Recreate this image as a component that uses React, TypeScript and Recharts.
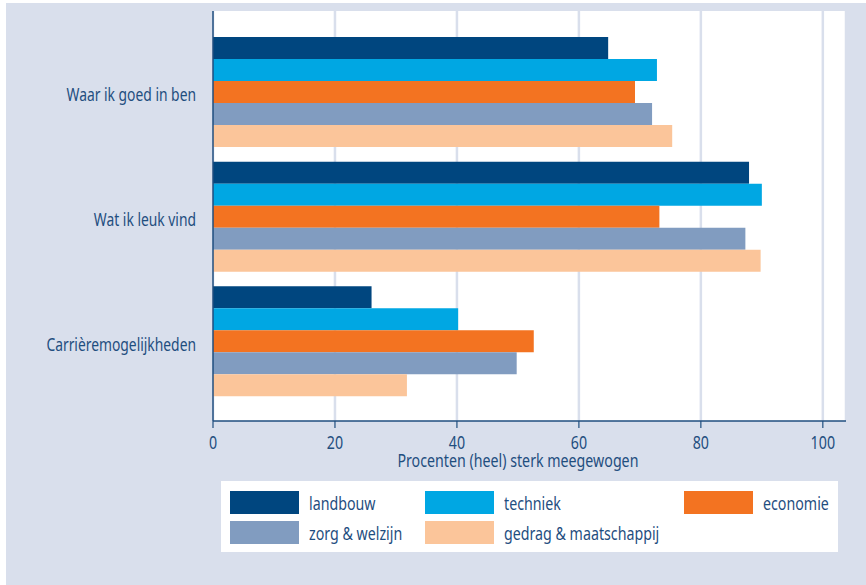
import { BarChart, Bar, XAxis, YAxis, CartesianGrid } from 'recharts';

const categories = ['Waar ik goed in ben', 'Wat ik leuk vind', 'Carrièremogelijkheden'];
const landbouw = [64.8, 87.9, 26.0];
const techniek = [72.8, 90.0, 40.2];
const economie = [69.2, 73.2, 52.6];
const zorgWelzijn = [72.0, 87.3, 49.8];
const gedragMaatschappij = [75.3, 89.8, 31.8];
const xTicks = [0, 20, 40, 60, 80, 100];

const series = [
  { key: 'landbouw', name: 'landbouw', values: landbouw, color: '#00467f' },
  { key: 'techniek', name: 'techniek', values: techniek, color: '#00a7e3' },
  { key: 'economie', name: 'economie', values: economie, color: '#f37321' },
  { key: 'zorg', name: 'zorg & welzijn', values: zorgWelzijn, color: '#819cc0' },
  { key: 'gedrag', name: 'gedrag & maatschappij', values: gedragMaatschappij, color: '#fbc59a' },
];

const data = categories.map((name, i) => {
  const row: Record<string, string | number> = { name };
  series.forEach((s) => {
    row[s.key] = s.values[i];
  });
  return row;
});

const TEXT = '#1f4e7f';
const BG = '#d9dfec';
const FONT = "'Noto Sans', sans-serif";
const FS = 18;
const SX = 0.79; // squeeze to mimic the condensed face of the original
const X_MAX = 103.8;

const CategoryTick = (props: any) => (
  <text
    transform={`translate(${props.x},${props.y}) scale(0.77,1)`}
    dy={9}
    textAnchor="end"
    fill={TEXT}
    fontSize={FS}
    fontFamily={FONT}
  >
    {props.payload.value}
  </text>
);

const NumberTick = (props: any) => (
  <text
    transform={`translate(${props.x},${props.y}) scale(${SX},1)`}
    dy={21.5}
    textAnchor="middle"
    fill={TEXT}
    fontSize={FS}
    fontFamily={FONT}
  >
    {props.payload.value}
  </text>
);

const AxisTitle = (props: any) => {
  const vb = props.viewBox;
  const cx = vb.x + (vb.width * 100) / X_MAX / 2;
  return (
    <text
      transform={`translate(${cx},${vb.y + 45.5}) scale(${SX},1)`}
      textAnchor="middle"
      fill={TEXT}
      fontSize={FS}
      fontFamily={FONT}
    >
      Procenten (heel) sterk meegewogen
    </text>
  );
};

const legendRows = [series.slice(0, 3), series.slice(3)];
const legendCols = [9, 204, 463];

export default function App() {
  return (
    <div style={{ position: 'absolute', left: 0, top: 0, width: 866, height: 585, background: '#fff' }}>
      <div style={{ position: 'absolute', left: 6, top: 3, width: 860, height: 582, background: BG, fontFamily: FONT }}>
        <BarChart
          width={860}
          height={470}
          data={data}
          layout="vertical"
          margin={{ top: 8, right: 20, bottom: 0, left: 0 }}
          barGap={0}
          barSize={22}
        >
          <CartesianGrid horizontal={false} stroke={BG} strokeWidth={2.5} fill="#ffffff" />
          <XAxis
            type="number"
            domain={[0, X_MAX]}
            ticks={xTicks}
            height={52}
            axisLine={{ stroke: TEXT, strokeWidth: 1.5 }}
            tickLine={{ stroke: TEXT, strokeWidth: 1.2 }}
            tickSize={7}
            tickMargin={0}
            tick={<NumberTick />}
            label={<AxisTitle />}
          />
          <YAxis
            type="category"
            dataKey="name"
            width={207}
            padding={{ top: 19, bottom: 17 }}
            axisLine={{ stroke: TEXT, strokeWidth: 1.5 }}
            tickLine={false}
            tickSize={0}
            tickMargin={17}
            tick={<CategoryTick />}
          />
          {series.map((s) => (
            <Bar key={s.key} dataKey={s.key} name={s.name} fill={s.color} isAnimationActive={false} />
          ))}
        </BarChart>
        <div
          style={{
            position: 'absolute',
            left: 215,
            top: 478,
            width: 617,
            height: 71,
            background: '#fff',
          }}
        >
          {legendRows.map((row, r) =>
            row.map((s, c) => (
              <div
                key={s.key}
                style={{
                  position: 'absolute',
                  left: legendCols[c],
                  top: 10 + r * 30,
                  height: 23,
                  display: 'flex',
                  alignItems: 'center',
                }}
              >
                <div style={{ width: 69, height: 23, background: s.color }} />
                <span
                  style={{
                    marginLeft: 10,
                    color: TEXT,
                    fontSize: FS,
                    whiteSpace: 'nowrap',
                    display: 'inline-block',
                    transform: `scaleX(${SX})`,
                    transformOrigin: 'left center',
                  }}
                >
                  {s.name}
                </span>
              </div>
            ))
          )}
        </div>
      </div>
    </div>
  );
}
